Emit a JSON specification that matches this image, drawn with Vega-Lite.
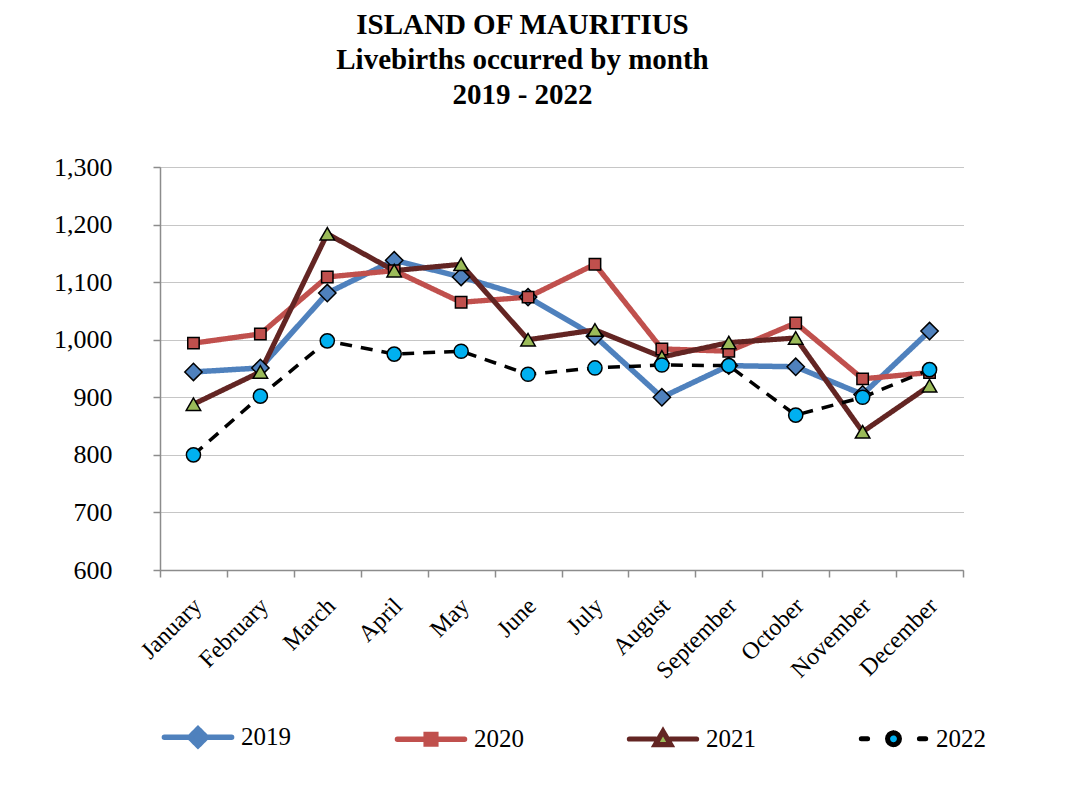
{
  "$schema": "https://vega.github.io/schema/vega-lite/v6.json",
  "width": 803,
  "height": 403,
  "padding": {"left": 53, "top": 11, "right": 20, "bottom": 5},
  "background": "white",
  "title": {
    "text": ["ISLAND OF MAURITIUS", "Livebirths occurred by month", "2019 - 2022"],
    "font": "Liberation Serif",
    "fontSize": 29,
    "fontWeight": "bold",
    "lineHeight": 35,
    "color": "black",
    "anchor": "middle",
    "dx": -39,
    "offset": 44
  },
  "config": {
    "view": {"stroke": null},
    "font": "Liberation Serif",
    "axis": {"labelFont": "Liberation Serif"},
    "legend": {"labelFont": "Liberation Serif"}
  },
  "data": {
    "values": [
      {"month": "January", "year": "2019", "value": 944},
      {"month": "February", "year": "2019", "value": 951},
      {"month": "March", "year": "2019", "value": 1081},
      {"month": "April", "year": "2019", "value": 1138},
      {"month": "May", "year": "2019", "value": 1109},
      {"month": "June", "year": "2019", "value": 1074},
      {"month": "July", "year": "2019", "value": 1006},
      {"month": "August", "year": "2019", "value": 900},
      {"month": "September", "year": "2019", "value": 955},
      {"month": "October", "year": "2019", "value": 953},
      {"month": "November", "year": "2019", "value": 905},
      {"month": "December", "year": "2019", "value": 1015},
      {"month": "January", "year": "2020", "value": 994},
      {"month": "February", "year": "2020", "value": 1010},
      {"month": "March", "year": "2020", "value": 1109},
      {"month": "April", "year": "2020", "value": 1120},
      {"month": "May", "year": "2020", "value": 1065},
      {"month": "June", "year": "2020", "value": 1074},
      {"month": "July", "year": "2020", "value": 1131},
      {"month": "August", "year": "2020", "value": 984},
      {"month": "September", "year": "2020", "value": 980},
      {"month": "October", "year": "2020", "value": 1029},
      {"month": "November", "year": "2020", "value": 932},
      {"month": "December", "year": "2020", "value": 943},
      {"month": "January", "year": "2021", "value": 888},
      {"month": "February", "year": "2021", "value": 944},
      {"month": "March", "year": "2021", "value": 1184},
      {"month": "April", "year": "2021", "value": 1120},
      {"month": "May", "year": "2021", "value": 1131},
      {"month": "June", "year": "2021", "value": 1000},
      {"month": "July", "year": "2021", "value": 1017},
      {"month": "August", "year": "2021", "value": 970},
      {"month": "September", "year": "2021", "value": 995},
      {"month": "October", "year": "2021", "value": 1003},
      {"month": "November", "year": "2021", "value": 840},
      {"month": "December", "year": "2021", "value": 920},
      {"month": "January", "year": "2022", "value": 800},
      {"month": "February", "year": "2022", "value": 902},
      {"month": "March", "year": "2022", "value": 998},
      {"month": "April", "year": "2022", "value": 975},
      {"month": "May", "year": "2022", "value": 980},
      {"month": "June", "year": "2022", "value": 940},
      {"month": "July", "year": "2022", "value": 951},
      {"month": "August", "year": "2022", "value": 956},
      {"month": "September", "year": "2022", "value": 955},
      {"month": "October", "year": "2022", "value": 869},
      {"month": "November", "year": "2022", "value": 900},
      {"month": "December", "year": "2022", "value": 948}
    ]
  },
  "encoding": {
    "x": {
      "field": "month",
      "type": "ordinal",
      "sort": ["January", "February", "March", "April", "May", "June", "July", "August", "September", "October", "November", "December"],
      "scale": {"paddingInner": 0, "paddingOuter": 0},
      "axis": {
        "title": null,
        "tickBand": "extent",
        "labelAngle": -45,
        "labelAlign": "right",
        "labelBaseline": "middle",
        "labelPadding": 25,
        "labelOffset": 4,
        "labelFont": "Liberation Serif",
        "labelFontSize": 24,
        "labelColor": "black",
        "domainColor": "#8c8c8c",
        "domainWidth": 1.5,
        "tickColor": "#8c8c8c",
        "tickWidth": 1.5,
        "tickSize": 7,
        "grid": false
      }
    },
    "y": {
      "field": "value",
      "type": "quantitative",
      "scale": {"domain": [600, 1300], "nice": false, "zero": false},
      "axis": {
        "title": null,
        "values": [600, 700, 800, 900, 1000, 1100, 1200, 1300],
        "format": ",.0f",
        "labelFont": "Liberation Serif",
        "labelFontSize": 26,
        "labelColor": "black",
        "labelPadding": 41,
        "domainColor": "#8c8c8c",
        "domainWidth": 1.5,
        "tickColor": "#8c8c8c",
        "tickWidth": 1.5,
        "tickSize": 7,
        "grid": true,
        "gridColor": "#8c8c8c",
        "gridDash": [1, 1],
        "gridWidth": 1
      }
    }
  },
  "layer": [
    {
      "transform": [{"filter": "datum.year != '2022'"}],
      "mark": {"type": "line", "strokeJoin": "round", "strokeCap": "butt"},
      "encoding": {
        "color": {
          "field": "year",
          "type": "nominal",
          "scale": {"domain": ["2019", "2020", "2021", "2022"], "range": ["#4F81BD", "#C0504D", "#632523", "#000000"]},
          "legend": {
            "title": null,
            "orient": "bottom",
            "direction": "horizontal",
            "offset": 15,
            "columnPadding": 95,
            "symbolSize": 4900,
            "symbolStrokeWidth": 4,
            "labelFont": "Liberation Serif",
            "labelFontSize": 25,
            "labelColor": "black",
            "labelOffset": 5,
            "encode": {
              "labels": {
                "update": {
                  "font": {"value": "Liberation Serif"},
                  "fontSize": {"value": 25},
                  "fill": {"value": "black"}
                }
              },
              "symbols": {
                "update": {
                  "shape": {"signal": "datum.value == '2019' ? 'M-0.96,0H-0.22M0.22,0H0.96M0,-0.24L0.24,0L0,0.24L-0.24,0Z' : datum.value == '2020' ? 'M-0.96,0H-0.14M0.14,0H0.96M-0.14,-0.14H0.14V0.14H-0.14Z' : datum.value == '2021' ? 'M-0.96,0H-0.2M0.2,0H0.96M0,-0.22L0.22,0.16L-0.22,0.16Z' : 'M-0.92,0H-0.74M0.74,0H0.92M0.17,0L0.157,0.065L0.12,0.12L0.065,0.157L0,0.17L-0.065,0.157L-0.12,0.12L-0.157,0.065L-0.17,0L-0.157,-0.065L-0.12,-0.12L-0.065,-0.157L0,-0.17L0.065,-0.157L0.12,-0.12L0.157,-0.065Z'"},
                  "fill": {"signal": "datum.value == '2019' ? '#4F81BD' : datum.value == '2020' ? '#C0504D' : datum.value == '2021' ? '#9BBB59' : '#00B0F0'"},
                  "stroke": {"signal": "datum.value == '2019' ? '#4F81BD' : datum.value == '2020' ? '#C0504D' : datum.value == '2021' ? '#632523' : '#000000'"},
                  "strokeWidth": {"signal": "datum.value == '2021' ? 2.5 : datum.value == '2022' ? 2.5 : 4.5"},
                  "strokeCap": {"value": "round"},
                  "opacity": {"value": 1},
                  "fillOpacity": {"value": 1},
                  "strokeOpacity": {"value": 1}
                }
              }
            }
          }
        },
        "strokeDash": {
          "field": "year",
          "type": "nominal",
          "scale": {"domain": ["2019", "2020", "2021", "2022"], "range": [[1, 0], [1, 0], [1, 0], [1, 0]]},
          "legend": null
        },
        "strokeWidth": {
          "field": "year",
          "type": "ordinal",
          "scale": {"domain": ["2019", "2020", "2021", "2022"], "range": [5.5, 5, 2.8, 3.5]},
          "legend": null
        }
      }
    },
    {
      "transform": [{"filter": "datum.year == '2022'"}],
      "mark": {"type": "line", "stroke": "black", "strokeWidth": 3.5, "strokeDash": [12, 9], "strokeCap": "butt", "strokeJoin": "round"}
    },
    {
      "transform": [{"filter": "datum.year == '2019'"}],
      "mark": {"type": "point", "shape": "diamond", "filled": true, "fill": "#4F81BD", "stroke": "black", "strokeWidth": 1.5, "opacity": 1, "size": 300}
    },
    {
      "transform": [{"filter": "datum.year == '2020'"}],
      "mark": {"type": "point", "shape": "square", "filled": true, "fill": "#C0504D", "stroke": "black", "strokeWidth": 1.5, "opacity": 1, "size": 130}
    },
    {
      "transform": [{"filter": "datum.year == '2021'"}],
      "mark": {"type": "point", "shape": "triangle-up", "filled": true, "fill": "#9BBB59", "stroke": "black", "strokeWidth": 1.5, "opacity": 1, "size": 210}
    },
    {
      "transform": [{"filter": "datum.year == '2022'"}],
      "mark": {"type": "point", "shape": "circle", "filled": true, "fill": "#00B0F0", "stroke": "black", "strokeWidth": 1.5, "opacity": 1, "size": 200}
    }
  ]
}
